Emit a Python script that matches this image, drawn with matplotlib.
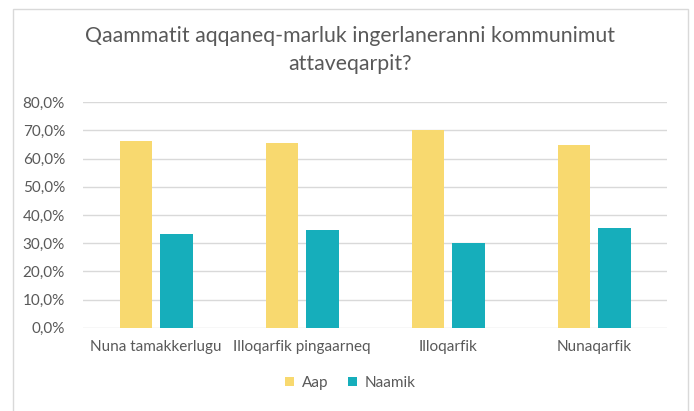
import matplotlib.pyplot as plt
import numpy as np
from matplotlib.patches import Rectangle
from matplotlib.ticker import FuncFormatter

# data
categories = ["Nuna tamakkerlugu", "Illoqarfik pingaarneq", "Illoqarfik", "Nunaqarfik"]
aap = [66.3, 65.4, 70.0, 64.8]
naamik = [33.4, 34.8, 30.1, 35.4]
series_names = ["Aap", "Naamik"]
title = "Qaammatit aqqaneq-marluk ingerlaneranni kommunimut\nattaveqarpit?"

yellow = "#F8D96F"
teal = "#16AEBB"
grey_text = "#595959"

plt.rcParams['font.family'] = ['Lato', 'DejaVu Sans']

fig = plt.figure(figsize=(6.94, 4.11), dpi=100)
ax = fig.add_axes([83 / 694, 1 - 327.7 / 411, (667 - 83) / 694, (327.7 - 102.3) / 411])

x = np.arange(len(categories))
w = 0.22
off = 0.14
ax.bar(x - off, aap, w, color=yellow, label=series_names[0], zorder=3)
ax.bar(x + off, naamik, w, color=teal, label=series_names[1], zorder=3)

ax.set_xlim(-0.5, len(categories) - 0.5)
ax.set_ylim(0, 80)
ax.set_yticks(np.arange(0, 81, 10))
ax.yaxis.set_major_formatter(FuncFormatter(lambda v, p: f"{v:.1f}%".replace(".", ",")))
ax.grid(axis="y", color="#d9d9d9", linewidth=1.0, zorder=0)
for s in ax.spines.values():
    s.set_visible(False)
ax.tick_params(axis="both", length=0, colors=grey_text, labelsize=11)
ax.tick_params(axis="y", pad=13)
ax.tick_params(axis="x", pad=9)
ax.set_xticks(x)
ax.set_xticklabels(categories)

fig.text(0.505, 1 - 50 / 411, title, ha="center", va="center", fontsize=15.3,
         color=grey_text, linespacing=1.45)

ax.legend(loc="center", bbox_to_anchor=(0.505, 1 - 383 / 411), bbox_transform=fig.transFigure,
          ncol=2, frameon=False, fontsize=11, handlelength=0.6, handleheight=0.6,
          columnspacing=1.3, handletextpad=0.5, labelcolor=grey_text)

# chart area border
fig.patches.append(Rectangle((13 / 694, -0.05), (688 - 13) / 694, 1.05 - 9 / 411,
                             transform=fig.transFigure, fill=False, edgecolor="#d9d9d9", linewidth=1))

fig.savefig("out.png", dpi=100)
